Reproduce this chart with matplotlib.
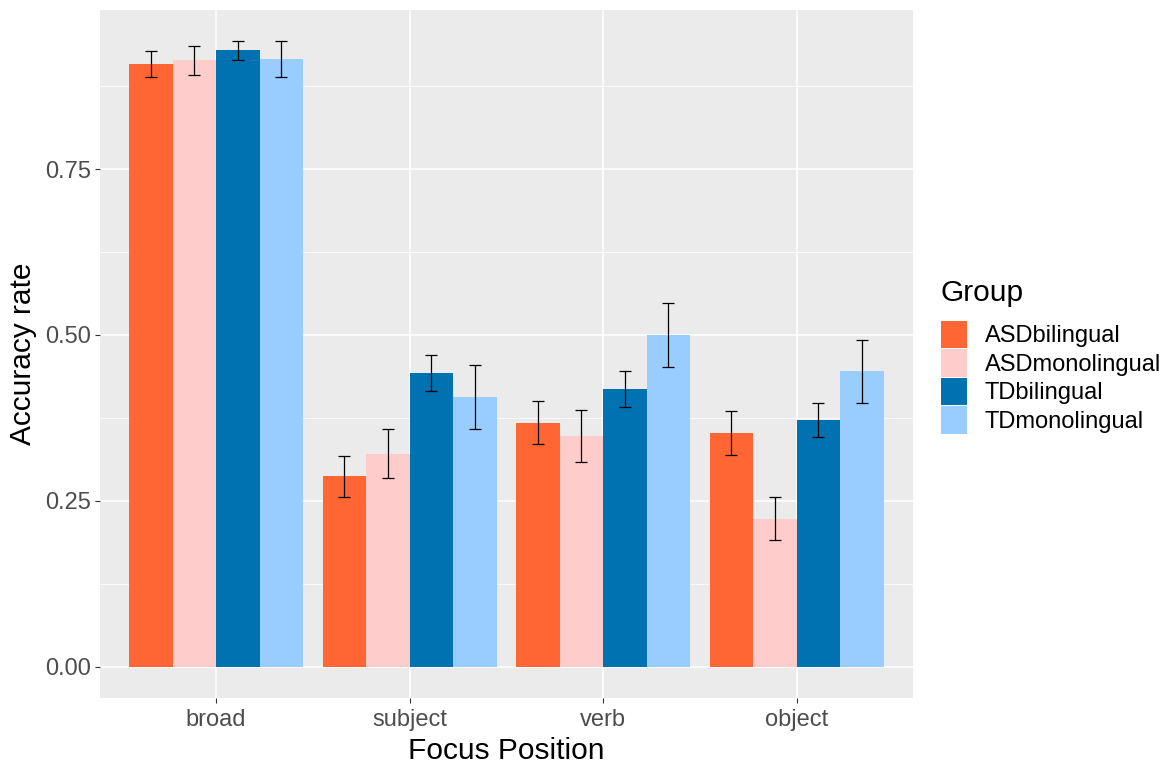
import numpy as np
import matplotlib
matplotlib.use("Agg")
import matplotlib.pyplot as plt
from matplotlib.patches import Patch

plt.rcParams['font.family'] = ['Liberation Sans', 'DejaVu Sans']

positions = ['broad', 'subject', 'verb', 'object']
groups = ['ASDbilingual', 'ASDmonolingual', 'TDbilingual', 'TDmonolingual']
colors = ['#FF6633', '#FFCCCC', '#0072B2', '#99CCFF']

# mean accuracy per group, in order of positions
asd_bi = [0.908, 0.287, 0.368, 0.352]
asd_mono = [0.914, 0.321, 0.348, 0.223]
td_bi = [0.929, 0.443, 0.418, 0.372]
td_mono = [0.916, 0.406, 0.500, 0.445]
means = [asd_bi, asd_mono, td_bi, td_mono]

# standard errors
asd_bi_se = [0.020, 0.031, 0.033, 0.033]
asd_mono_se = [0.022, 0.037, 0.039, 0.032]
td_bi_se = [0.014, 0.027, 0.027, 0.026]
td_mono_se = [0.027, 0.048, 0.048, 0.048]
ses = [asd_bi_se, asd_mono_se, td_bi_se, td_mono_se]

fig = plt.figure(figsize=(11.76, 7.67), dpi=100)
ax = fig.add_axes([100/1176, 1-697.7/767, 812.7/1176, 687.7/767])
ax.set_facecolor('#EBEBEB')

x = np.arange(1, len(positions)+1)
w = 0.225
for i in range(4):
    xi = x + (i - 1.5)*w
    ax.bar(xi, means[i], width=w, color=colors[i], zorder=3, label=groups[i])
    ax.errorbar(xi, means[i], yerr=ses[i], fmt='none', ecolor='black',
                elinewidth=0.9, capsize=4, capthick=0.9, zorder=4)

ax.set_xlim(0.4, 4.6)
ax.set_ylim(-0.0467, 0.9896)
ax.set_xticks(x)
ax.set_xticklabels(positions)
ax.set_yticks([0, 0.25, 0.5, 0.75])
ax.set_yticklabels(['0.00', '0.25', '0.50', '0.75'])
ax.set_yticks([0.125, 0.375, 0.625, 0.875], minor=True)
ax.grid(which='major', color='white', linewidth=1.1, zorder=0)
ax.grid(which='minor', axis='y', color='white', linewidth=0.55, zorder=0)
ax.set_axisbelow(True)
for s in ax.spines.values():
    s.set_visible(False)
ax.tick_params(which='major', length=3.3, width=0.8, color='#333333',
               labelsize=17, labelcolor='#4D4D4D', pad=3)
ax.tick_params(axis='x', pad=5)
ax.tick_params(which='minor', length=0)

ax.set_xlabel('Focus Position', fontsize=21.5, labelpad=4)
ax.set_ylabel('Accuracy rate', fontsize=21.5, labelpad=6)

handles = [Patch(facecolor=c, edgecolor='none') for c in colors]
leg = fig.legend(handles, groups, title='Group', loc='upper left',
                 bbox_to_anchor=(941/1176, 1-279/767), frameon=False,
                 fontsize=17, title_fontsize=21.5, borderpad=0,
                 borderaxespad=0, handlelength=1.1, handleheight=1.4,
                 labelspacing=0.05, handletextpad=0.75)
leg._legend_box.align = 'left'
leg._legend_box.sep = 10

fig.savefig('out.png', dpi=100)
